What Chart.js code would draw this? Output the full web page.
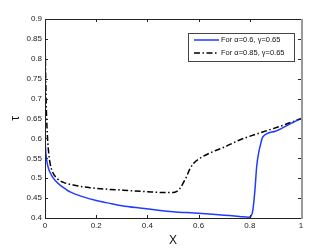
<!DOCTYPE html>
<html>
<head>
<meta charset="utf-8">
<script src="https://cdn.jsdelivr.net/npm/chart.js@4.4.1/dist/chart.umd.min.js"></script>
<style>
  html, body { margin: 0; padding: 0; background: #fff; }
  #wrap { width: 332px; height: 250px; }
</style>
</head>
<body>
<div id="wrap"><canvas id="graphique"></canvas></div>
<script>
// Données
const xBleu = [0, 0.003, 0.008, 0.015, 0.025, 0.04, 0.06, 0.08, 0.1, 0.14, 0.2, 0.26, 0.3, 0.37, 0.45, 0.5, 0.6, 0.7, 0.76, 0.795, 0.805, 0.812, 0.82, 0.827, 0.835, 0.842, 0.85, 0.9, 0.95, 1.0];
const yBleu = [0.6, 0.565, 0.54, 0.522, 0.508, 0.494, 0.482, 0.473, 0.465, 0.455, 0.444, 0.436, 0.431, 0.425, 0.419, 0.416, 0.412, 0.407, 0.404, 0.402, 0.405, 0.42, 0.47, 0.53, 0.565, 0.585, 0.603, 0.618, 0.634, 0.65];

const xNoir = [0, 0.002, 0.005, 0.01, 0.015, 0.02, 0.03, 0.046, 0.07, 0.11, 0.176, 0.25, 0.305, 0.4, 0.47, 0.5, 0.515, 0.527, 0.54, 0.553, 0.565, 0.58, 0.605, 0.65, 0.7, 0.76, 0.85, 0.93, 1.0];
const yNoir = [0.86, 0.78, 0.68, 0.6, 0.56, 0.537, 0.515, 0.5, 0.49, 0.483, 0.476, 0.472, 0.47, 0.466, 0.464, 0.464, 0.467, 0.474, 0.488, 0.504, 0.522, 0.537, 0.55, 0.565, 0.578, 0.596, 0.616, 0.633, 0.65];

const libelles = ["For \u03b1=0.6, \u03b3=0.65", "For \u03b1=0.85, \u03b3=0.65"];
const xTicks = [0, 0.2, 0.4, 0.6, 0.8, 1];
const yTicks = [0.4, 0.45, 0.5, 0.55, 0.6, 0.65, 0.7, 0.75, 0.8, 0.85, 0.9];

const bleu = "#1f3cff";
const tiret = [6, 2.5, 1.5, 2.5];

function points(xs, ys) {
    return xs.map((x, i) => ({ x: x, y: ys[i] }));
}

// Cadre, graduations intérieures et légende
const cadrePlugin = {
    id: "cadre",
    afterDatasetsDraw(chart) {
        const ctx = chart.ctx;
        const a = chart.chartArea;
        const sx = chart.scales.x;
        const sy = chart.scales.y;
        ctx.save();
        ctx.lineWidth = 1;
        ctx.strokeStyle = "#222";
        ctx.beginPath();
        ctx.moveTo(a.right, a.top + 0.5);
        ctx.lineTo(a.left + 0.5, a.top + 0.5);
        ctx.lineTo(a.left + 0.5, a.bottom + 0.5);
        ctx.lineTo(a.right, a.bottom + 0.5);
        for (const t of xTicks) {
            const px = Math.round(sx.getPixelForValue(t)) + 0.5;
            ctx.moveTo(px, a.bottom);
            ctx.lineTo(px, a.bottom - 3);
            ctx.moveTo(px, a.top);
            ctx.lineTo(px, a.top + 3);
        }
        for (const t of yTicks) {
            const py = Math.round(sy.getPixelForValue(t)) + 0.5;
            ctx.moveTo(a.left, py);
            ctx.lineTo(a.left + 3, py);
            ctx.moveTo(a.right, py);
            ctx.lineTo(a.right - 3, py);
        }
        ctx.stroke();
        ctx.strokeStyle = "#9a9a9a";
        ctx.lineWidth = 2;
        ctx.beginPath();
        ctx.moveTo(a.right + 1, a.top);
        ctx.lineTo(a.right + 1, a.bottom + 1);
        ctx.stroke();

        // légende
        const lx = 188, ly = 33, lw = 106, lh = 28;
        ctx.fillStyle = "#fff";
        ctx.fillRect(lx, ly, lw, lh);
        ctx.strokeStyle = "#444";
        ctx.lineWidth = 1;
        ctx.strokeRect(lx + 0.5, ly + 0.5, lw, lh);
        ctx.font = "7.5px 'Liberation Sans', Arial, sans-serif";
        ctx.textBaseline = "middle";
        ctx.fillStyle = "#111";
        const lignes = [ly + 7, ly + 20];
        ctx.lineWidth = 1.5;
        ctx.strokeStyle = bleu;
        ctx.setLineDash([]);
        ctx.beginPath();
        ctx.moveTo(194, lignes[0]);
        ctx.lineTo(219, lignes[0]);
        ctx.stroke();
        ctx.strokeStyle = "#000";
        ctx.setLineDash(tiret);
        ctx.beginPath();
        ctx.moveTo(194, lignes[1]);
        ctx.lineTo(219, lignes[1]);
        ctx.stroke();
        ctx.setLineDash([]);
        ctx.fillText(libelles[0], 221, lignes[0]);
        ctx.fillText(libelles[1], 221, lignes[1]);
        ctx.restore();
    }
};

const tickFont = { family: "'Liberation Sans', Arial, sans-serif", size: 8 };

const config = {
    type: "line",
    data: {
        datasets: [{
            label: libelles[0],
            data: points(xBleu, yBleu),
            borderColor: bleu,
            borderWidth: 1.5,
            pointRadius: 0,
            cubicInterpolationMode: "monotone",
            fill: false
        }, {
            label: libelles[1],
            data: points(xNoir, yNoir),
            borderColor: "#000",
            borderWidth: 1.5,
            borderDash: tiret,
            pointRadius: 0,
            cubicInterpolationMode: "monotone",
            fill: false
        }]
    },
    options: {
        responsive: true,
        maintainAspectRatio: false,
        animation: false,
        layout: { padding: { top: 19, right: 31, left: 0, bottom: 0 } },
        plugins: { legend: { display: false }, tooltip: { enabled: false } },
        scales: {
            x: {
                type: "linear",
                min: 0,
                max: 1,
                afterFit: (s) => { s.height = 32; },
                afterBuildTicks: (s) => { s.ticks = xTicks.map(v => ({ value: v })); },
                grid: { display: false, drawTicks: false },
                border: { display: false },
                ticks: {
                    font: tickFont,
                    color: "#222",
                    padding: 3,
                    maxRotation: 0,
                    callback: (v) => String(Math.round(v * 10) / 10)
                },
                title: {
                    display: true,
                    text: "X",
                    font: { family: "'Liberation Sans', Arial, sans-serif", size: 12 },
                    color: "#111",
                    padding: { top: 0, bottom: 2 }
                }
            },
            y: {
                type: "linear",
                min: 0.4,
                max: 0.9,
                afterFit: (s) => { s.width = 45; },
                afterBuildTicks: (s) => { s.ticks = yTicks.map(v => ({ value: v })); },
                grid: { display: false, drawTicks: false },
                border: { display: false },
                ticks: {
                    font: tickFont,
                    color: "#222",
                    padding: 3,
                    callback: (v) => String(Math.round(v * 100) / 100)
                },
                title: {
                    display: true,
                    text: "\u03c4",
                    font: { family: "'Liberation Sans', Arial, sans-serif", size: 12 },
                    color: "#111",
                    padding: { top: 8, bottom: 0 }
                }
            }
        }
    },
    plugins: [cadrePlugin]
};

const graphique = new Chart(document.querySelector("#graphique"), config);
</script>
</body>
</html>
